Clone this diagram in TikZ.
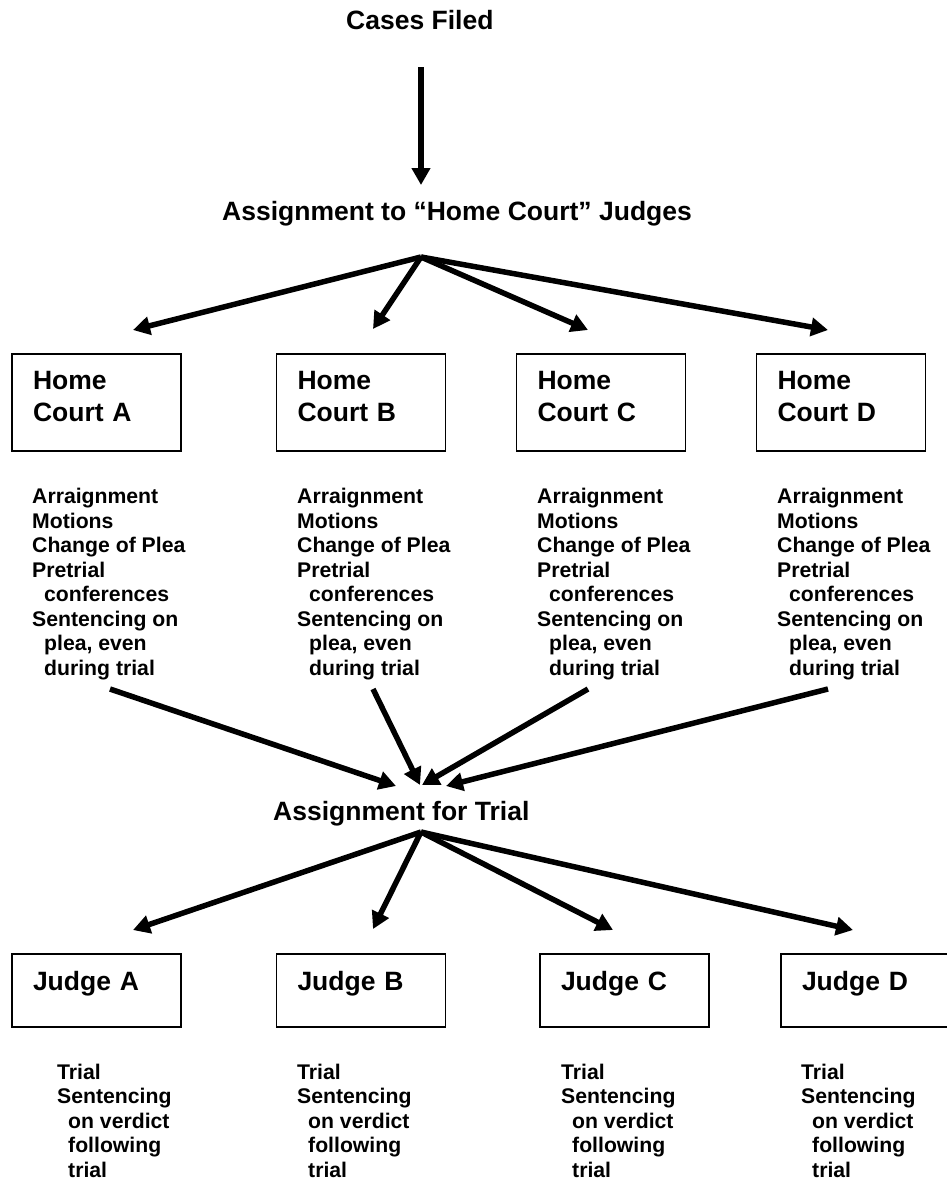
\documentclass[tikz,border=0pt]{standalone}
\usepackage{fontspec}
\setmainfont{Liberation Sans}
\usetikzlibrary{arrows.meta}

\begin{document}
\begin{tikzpicture}[x=1pt, y=-1pt,
  every node/.style={inner sep=0pt, font=\bfseries},
  head/.style={anchor=base west, font=\bfseries\fontsize{26.5}{32}\selectfont},
  court/.style={draw, line width=1.8pt, minimum width=169pt, minimum height=97pt,
    inner xsep=21pt, text width=127pt, align=left, font=\bfseries\fontsize{26.5}{32}\selectfont},
  judge/.style={court, minimum height=73pt},
  duties/.style={anchor=base west, align=left, font=\bfseries\fontsize{21.2}{24.45}\selectfont},
  flow/.style={line width=5.5pt, -{Triangle[length=17pt,width=18pt]}}]
  \useasboundingbox (0,0) rectangle (946,1181);

  % headings
  \node[head] (cases) at (346,29) {Cases Filed};
  \node[head] (homeassign) at (222,220) {Assignment to “Home Court” Judges};
  \node[head] (trialassign) at (273,820) {Assignment for Trial};

  % home courts
  \node[court] (hA) at (96.5,402.5) {Home\\Court A\rule[-12pt]{0pt}{12pt}};
  \node[court] (hB) at (361,402.5) {Home\\Court B\rule[-12pt]{0pt}{12pt}};
  \node[court] (hC) at (601,402.5) {Home\\Court C\rule[-12pt]{0pt}{12pt}};
  \node[court] (hD) at (841,402.5) {Home\\Court D\rule[-12pt]{0pt}{12pt}};

  % base is the last line
  \node[duties] (dA) at (32,675) {Arraignment\\Motions\\Change of Plea\\Pretrial\\\hspace*{12pt}conferences\\Sentencing on\\\hspace*{12pt}plea, even\\\hspace*{12pt}during trial};
  \node[duties] (dB) at (297,675) {Arraignment\\Motions\\Change of Plea\\Pretrial\\\hspace*{12pt}conferences\\Sentencing on\\\hspace*{12pt}plea, even\\\hspace*{12pt}during trial};
  \node[duties] (dC) at (537,675) {Arraignment\\Motions\\Change of Plea\\Pretrial\\\hspace*{12pt}conferences\\Sentencing on\\\hspace*{12pt}plea, even\\\hspace*{12pt}during trial};
  \node[duties] (dD) at (777,675) {Arraignment\\Motions\\Change of Plea\\Pretrial\\\hspace*{12pt}conferences\\Sentencing on\\\hspace*{12pt}plea, even\\\hspace*{12pt}during trial};

  % trial judges
  \node[judge] (jA) at (96.5,990.5) {Judge A\rule[-20pt]{0pt}{20pt}};
  \node[judge] (jB) at (361,990.5) {Judge B\rule[-20pt]{0pt}{20pt}};
  \node[judge] (jC) at (624.5,990.5) {Judge C\rule[-20pt]{0pt}{20pt}};
  \node[judge] (jD) at (865.5,990.5) {Judge D\rule[-20pt]{0pt}{20pt}};

  \node[duties] (tA) at (57,1177) {Trial\\Sentencing\\\hspace*{11pt}on verdict\\\hspace*{11pt}following\\\hspace*{11pt}trial};
  \node[duties] (tB) at (297,1177) {Trial\\Sentencing\\\hspace*{11pt}on verdict\\\hspace*{11pt}following\\\hspace*{11pt}trial};
  \node[duties] (tC) at (561,1177) {Trial\\Sentencing\\\hspace*{11pt}on verdict\\\hspace*{11pt}following\\\hspace*{11pt}trial};
  \node[duties] (tD) at (801,1177) {Trial\\Sentencing\\\hspace*{11pt}on verdict\\\hspace*{11pt}following\\\hspace*{11pt}trial};

  % arrow ends
  \coordinate (fileout) at (421,67);
  \coordinate (homein) at (421,185);
  \coordinate (homefan) at (421,257);
  \coordinate (toA) at (133,330);
  \coordinate (toB) at (373,329);
  \coordinate (toC) at (588,330);
  \coordinate (toD) at (828,330);
  \coordinate (fromA) at (110,689);
  \coordinate (fromB) at (373,689);
  \coordinate (fromC) at (588,689);
  \coordinate (fromD) at (828,689);
  \coordinate (inA) at (396,786);
  \coordinate (inB) at (420,785);
  \coordinate (inC) at (422,785);
  \coordinate (inD) at (446,786);
  \coordinate (trialfan) at (421,832);
  \coordinate (jtoA) at (133,930);
  \coordinate (jtoB) at (373,929);
  \coordinate (jtoC) at (613,930);
  \coordinate (jtoD) at (853,930);

  \draw[flow] (fileout) -- (homein);
  \draw[flow] (homefan) -- (toA);
  \draw[flow] (homefan) -- (toB);
  \draw[flow] (homefan) -- (toC);
  \draw[flow] (homefan) -- (toD);
  \draw[flow] (fromA) -- (inA);
  \draw[flow] (fromB) -- (inB);
  \draw[flow] (fromC) -- (inC);
  \draw[flow] (fromD) -- (inD);
  \draw[flow] (trialfan) -- (jtoA);
  \draw[flow] (trialfan) -- (jtoB);
  \draw[flow] (trialfan) -- (jtoC);
  \draw[flow] (trialfan) -- (jtoD);
\end{tikzpicture}
\end{document}
